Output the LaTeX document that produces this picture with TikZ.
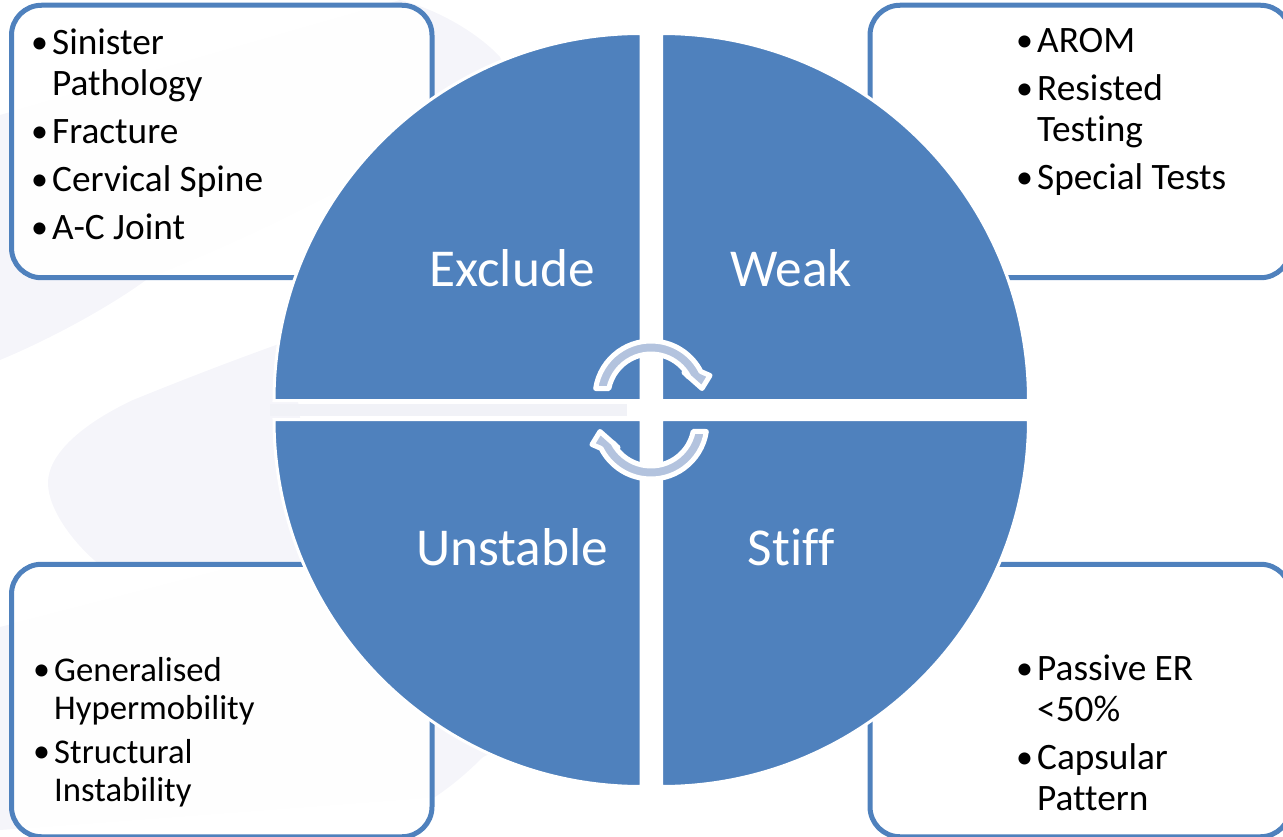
\documentclass[tikz,border=0pt]{standalone}
\usepackage{fontspec}
\setmainfont[Ligatures=NoCommon]{Carlito}
\definecolor{pieblue}{HTML}{4F81BD}
\definecolor{swoosh}{HTML}{F5F5FA}
\definecolor{stripcol}{HTML}{F1F2F7}
\definecolor{arrowfill}{HTML}{B3C3DE}
\begin{document}
\begin{tikzpicture}[x=1pt,y=-1pt,
  infobox/.style={draw=pieblue,line width=5pt,fill=white,fill opacity=0.92,draw opacity=1,rounded corners=30pt,minimum width=420.5pt,minimum height=272.5pt,inner sep=0pt},
  listtext/.style={anchor=north west,align=left,inner sep=0pt,text=black,font=\fontsize{37.3}{41}\selectfont},
  listsmall/.style={listtext,font=\fontsize{34.7}{38}\selectfont},
  quad/.style={fill=pieblue,draw=white,line width=3pt},
  quadlabel/.style={anchor=base,text=white,inner sep=0pt,font=\fontsize{53.3}{60}\selectfont},
  cyc/.style={fill=arrowfill,draw=white,line width=5pt,line join=round}]
\useasboundingbox (0,0) rectangle (1283,837);
% background swooshes
\fill[swoosh] (0,115) -- (400,0) .. controls (440,10) and (480,35) .. (500,57) -- (520,100) -- (300,210) .. controls (230,245) and (180,265) .. (150,277) .. controls (120,300) and (60,335) .. (0,360) -- cycle;
\fill[swoosh] (290,340) .. controls (220,365) and (170,385) .. (133,400) .. controls (80,425) and (48,455) .. (48,483) .. controls (48,510) and (75,545) .. (100,565) -- (320,570) -- cycle;
\fill[swoosh] (0,627) -- (300,550) -- (600,600) -- (600,700) -- (483,757) .. controls (465,775) and (450,787) .. (435,797) -- (0,830) -- cycle;
\fill[stripcol] (270,404) rectangle (627,416);
% boxes
\node[infobox] (boxa) at (221.75,141.5) {};
\node[infobox] (boxb) at (1080.25,141.5) {};
\node[infobox] (boxc) at (221.75,700.5) {};
\node[infobox] (boxd) at (1080.25,700.5) {};
% pie
\draw[quad] (641,400.5) -- (274,400.5) arc[start angle=180,end angle=270,radius=367] -- cycle;
\draw[quad] (661.5,400.5) -- (661.5,33.5) arc[start angle=270,end angle=360,radius=367] -- cycle;
\draw[quad] (641,419.5) -- (641,786.5) arc[start angle=90,end angle=180,radius=367] -- cycle;
\draw[quad] (661.5,419.5) -- (1028.5,419.5) arc[start angle=0,end angle=90,radius=367] -- cycle;
% labels
\node[quadlabel] (excl) at (512,287) {Exclude};
\node[quadlabel] (weak) at (791,287) {Weak};
\node[quadlabel] (unst) at (512,565) {Unstable};
\node[quadlabel] (stif) at (791,565) {Stiff};
% cycle arrows
\draw[cyc] (595.65,388.5) arc[start angle=188.7,end angle=333,radius=56] -- (710,375.5) -- (702,388.5) -- (684,372.5) -- (689.3,377.5) arc[start angle=333,end angle=191.4,radius=43] -- cycle;
\begin{scope}[rotate around={180:(651,410)}]
\draw[cyc] (595.65,388.5) arc[start angle=188.7,end angle=333,radius=56] -- (710,375.5) -- (702,388.5) -- (684,372.5) -- (689.3,377.5) arc[start angle=333,end angle=191.4,radius=43] -- cycle;
\end{scope}
% lists
\newcommand{\itm}[1]{\makebox[21pt][l]{\raisebox{1pt}{\fontsize{34}{34}\selectfont\textbullet}}#1}
\newcommand{\cont}[1]{\hspace*{21pt}#1}
\node[listtext] (lista) at (31,28.5) {\itm{Sinister}\\\cont{Pathology}\\[7pt]\itm{Fracture}\\[7pt]\itm{Cervical Spine}\\[7pt]\itm{A-C Joint}};
\node[listtext] (listb) at (1016,28.5) {\itm{AROM}\\[7pt]\itm{Resisted}\\\cont{Testing}\\[7pt]\itm{Special Tests}};
\node[listsmall] (listc) at (33,657) {\itm{Generalised}\\\cont{Hypermobility}\\[6pt]\itm{Structural}\\\cont{Instability}};
\node[listtext] (listd) at (1016,654.5) {\itm{Passive ER}\\\cont{<50\%}\\[7pt]\itm{Capsular}\\\cont{Pattern}};
\end{tikzpicture}
\end{document}
